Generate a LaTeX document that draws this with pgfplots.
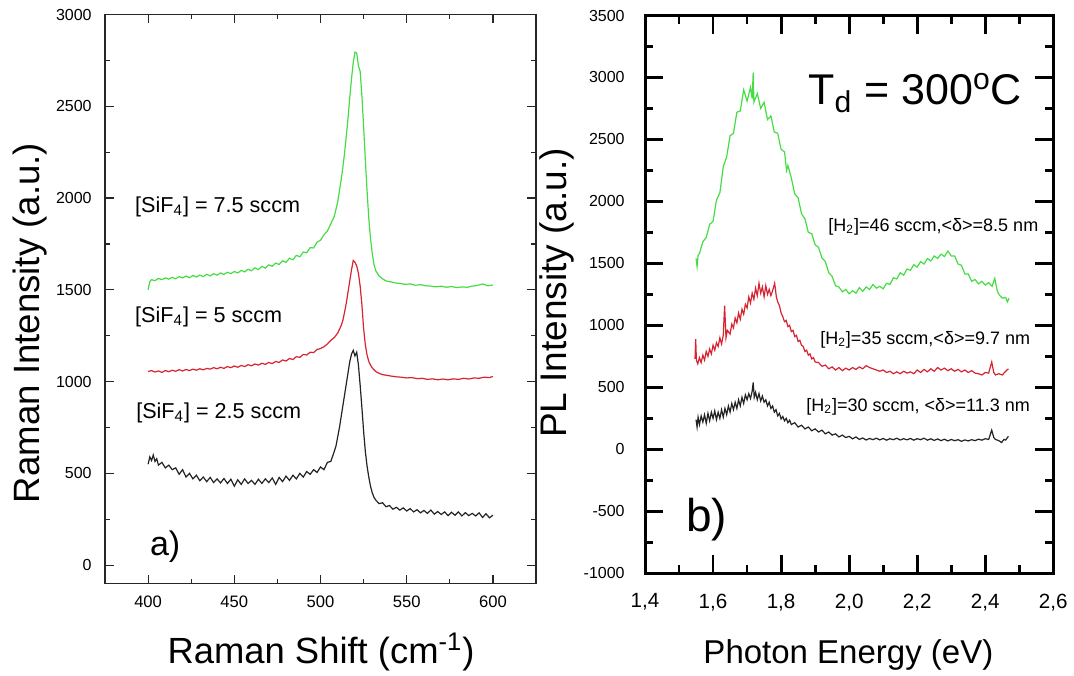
\documentclass[border=0pt]{standalone}
\usepackage{fontspec}
\setmainfont{Liberation Sans}
\usepackage{pgfplots}
\usepackage{pgfplotstable}
\pgfplotsset{compat=1.18}
\definecolor{lgreen}{RGB}{70,220,70}
\definecolor{lred}{RGB}{215,35,50}
\definecolor{dgray}{RGB}{35,35,35}

% ---------- Raman (a) ----------
\pgfplotstableread{
x y
400 1500
401 1545
402 1555
404 1550
406 1562
408 1555
410 1565
412 1558
414 1568
416 1560
418 1572
420 1565
422 1575
424 1566
426 1578
428 1570
430 1580
432 1572
434 1585
436 1576
438 1588
440 1580
442 1592
444 1584
446 1596
448 1588
450 1600
452 1592
454 1606
456 1598
458 1612
460 1604
462 1620
464 1610
466 1628
468 1618
470 1636
472 1628
474 1646
476 1638
478 1658
480 1650
482 1672
484 1664
486 1688
488 1680
490 1706
492 1702
494 1730
496 1728
498 1760
500 1770
502 1800
504 1820
506 1860
508 1900
509 1940
510 1980
511 2040
512 2100
513 2170
514 2250
515 2340
516 2440
517 2550
518 2650
519 2740
520 2795
521 2790
522 2720
523 2690
524 2560
525 2390
526 2210
527 2040
528 1890
529 1780
530 1700
531 1640
532 1605
534 1575
536 1560
538 1548
540 1545
543 1538
546 1535
549 1530
552 1532
555 1525
558 1528
561 1522
564 1520
567 1516
570 1520
573 1514
576 1518
579 1512
582 1516
585 1514
588 1520
591 1524
594 1532
597 1522
600 1526
}\ramanA

\pgfplotstableread{
x y
400 1055
402 1060
404 1052
406 1058
408 1050
410 1060
412 1054
414 1062
416 1056
418 1065
420 1058
422 1066
424 1060
426 1068
428 1062
430 1070
432 1064
434 1072
436 1068
438 1076
440 1070
442 1078
444 1072
446 1082
448 1076
450 1085
452 1078
454 1088
456 1082
458 1092
460 1086
462 1096
464 1090
466 1100
468 1094
470 1104
472 1098
474 1110
476 1104
478 1118
480 1112
482 1126
484 1120
486 1136
488 1132
490 1148
492 1145
494 1160
496 1158
498 1175
500 1180
502 1190
504 1205
506 1225
508 1240
510 1265
511 1285
512 1305
513 1335
514 1380
515 1430
516 1490
517 1550
518 1610
519 1660
520 1650
521 1630
522 1590
523 1520
524 1420
525 1290
526 1200
527 1145
528 1110
529 1090
530 1075
532 1055
534 1045
536 1038
538 1035
541 1030
544 1026
547 1024
550 1020
553 1022
556 1016
559 1018
562 1012
565 1015
568 1010
571 1014
574 1010
577 1015
580 1012
583 1018
586 1014
589 1020
592 1018
595 1024
598 1022
600 1028
}\ramanB

\pgfplotstableread{
x y
400 550
401 590
402 570
403 600
404 565
405 580
406 545
408 560
410 530
412 545
414 520
416 530
418 495
420 520
422 480
424 500
426 470
428 490
430 460
432 480
434 455
436 478
438 450
440 470
442 448
444 472
446 445
448 468
450 430
452 465
454 440
456 470
458 445
460 462
462 440
464 468
466 445
468 470
470 450
472 475
474 440
476 478
478 455
480 485
482 462
484 490
486 470
488 500
490 480
492 510
494 495
496 520
498 505
500 535
502 520
504 560
506 565
508 620
509 650
510 700
511 750
512 810
513 870
514 930
515 990
516 1050
517 1110
518 1150
519 1170
520 1140
521 1160
522 1090
523 980
524 860
525 730
526 620
527 540
528 480
529 430
530 395
531 370
532 355
534 335
536 340
538 318
540 325
542 305
544 315
546 300
548 312
550 295
552 308
554 290
556 302
558 285
560 298
562 282
564 300
566 278
568 292
570 276
572 290
574 270
576 288
578 272
580 290
582 268
584 286
586 270
588 282
590 268
592 285
594 260
596 280
598 258
600 272
}\ramanC

% ---------- PL (b) ----------
\pgfplotstableread{
x y
1.550 1540
1.553 1475
1.556 1565
1.560 1580
1.570 1675
1.580 1710
1.590 1815
1.600 1840
1.610 2010
1.620 2070
1.630 2280
1.640 2360
1.650 2530
1.660 2550
1.670 2720
1.680 2730
1.690 2900
1.700 2810
1.710 2920
1.715 2830
1.718 3040
1.720 2800
1.730 2870
1.740 2750
1.750 2800
1.760 2660
1.770 2690
1.780 2560
1.790 2550
1.800 2420
1.810 2400
1.816 2250
1.820 2290
1.830 2190
1.840 2060
1.850 2030
1.860 1900
1.870 1860
1.880 1750
1.890 1740
1.900 1650
1.910 1630
1.920 1545
1.930 1515
1.940 1425
1.950 1395
1.960 1320
1.970 1310
1.980 1270
1.990 1290
2.000 1255
2.010 1280
2.020 1260
2.030 1305
2.040 1275
2.050 1310
2.060 1290
2.070 1330
2.080 1300
2.090 1315
2.100 1295
2.110 1340
2.120 1330
2.130 1385
2.140 1375
2.150 1425
2.160 1405
2.170 1455
2.180 1445
2.190 1490
2.200 1470
2.210 1515
2.220 1495
2.230 1540
2.240 1520
2.250 1560
2.260 1540
2.270 1575
2.280 1555
2.290 1600
2.300 1560
2.310 1560
2.320 1495
2.330 1485
2.340 1415
2.350 1415
2.360 1355
2.370 1370
2.380 1335
2.390 1355
2.400 1325
2.410 1345
2.420 1315
2.428 1380
2.435 1280
2.440 1250
2.450 1220
2.460 1225
2.465 1190
2.470 1220
}\plA

\pgfplotstableread{
x y
1.547 730
1.549 890
1.551 720
1.555 690
1.560 740
1.565 700
1.570 760
1.575 720
1.580 790
1.585 750
1.590 810
1.595 770
1.600 840
1.605 800
1.610 860
1.615 830
1.620 900
1.625 850
1.630 920
1.634 1160
1.638 900
1.642 960
1.650 930
1.655 1010
1.660 980
1.665 1060
1.670 1020
1.675 1100
1.680 1050
1.685 1130
1.690 1090
1.695 1170
1.700 1140
1.705 1230
1.710 1180
1.715 1260
1.720 1210
1.725 1300
1.730 1240
1.735 1340
1.740 1260
1.745 1310
1.750 1230
1.755 1320
1.760 1250
1.765 1290
1.770 1240
1.775 1280
1.781 1340
1.786 1230
1.790 1190
1.795 1160
1.800 1100
1.805 1070
1.810 1030
1.815 1040
1.820 990
1.825 1000
1.830 950
1.835 960
1.840 910
1.845 920
1.850 870
1.855 880
1.860 840
1.865 830
1.870 790
1.875 800
1.880 760
1.885 770
1.890 730
1.895 740
1.900 705
1.910 700
1.920 670
1.930 680
1.940 650
1.950 665
1.960 640
1.970 660
1.980 635
1.990 655
2.000 640
2.010 660
2.020 645
2.030 665
2.040 650
2.050 675
2.060 660
2.070 650
2.080 640
2.090 630
2.100 640
2.110 620
2.120 630
2.130 610
2.140 625
2.150 610
2.160 630
2.170 615
2.180 625
2.190 610
2.200 640
2.210 620
2.220 645
2.230 625
2.240 650
2.250 630
2.260 660
2.270 640
2.280 655
2.290 635
2.300 650
2.310 630
2.320 645
2.330 625
2.340 640
2.350 620
2.360 635
2.370 615
2.380 610
2.390 600
2.400 620
2.410 615
2.419 705
2.425 620
2.430 600
2.440 610
2.450 600
2.460 630
2.468 650
}\plB

\pgfplotstableread{
x y
1.550 240
1.553 180
1.556 260
1.560 200
1.565 270
1.570 220
1.575 280
1.580 210
1.585 290
1.590 230
1.595 300
1.600 250
1.605 310
1.610 240
1.615 300
1.620 250
1.625 320
1.630 260
1.635 330
1.640 280
1.645 350
1.650 300
1.655 370
1.660 320
1.665 380
1.670 330
1.675 400
1.680 350
1.685 420
1.690 370
1.695 440
1.700 400
1.705 450
1.710 410
1.715 470
1.718 540
1.721 420
1.725 460
1.730 400
1.735 450
1.740 390
1.745 430
1.750 380
1.755 400
1.760 350
1.765 380
1.770 330
1.775 350
1.780 300
1.785 320
1.790 270
1.795 290
1.800 245
1.805 265
1.810 230
1.815 250
1.820 215
1.825 235
1.830 200
1.840 215
1.850 180
1.860 195
1.870 165
1.880 180
1.890 150
1.900 165
1.910 140
1.920 155
1.930 125
1.940 140
1.950 115
1.960 125
1.970 100
1.980 115
1.990 95
2.000 105
2.010 85
2.020 100
2.030 80
2.040 92
2.050 75
2.060 88
2.070 78
2.080 90
2.090 76
2.100 88
2.110 74
2.120 86
2.130 78
2.140 90
2.150 75
2.160 86
2.170 77
2.180 88
2.190 74
2.200 86
2.210 78
2.220 90
2.230 74
2.240 85
2.250 72
2.260 84
2.270 70
2.280 82
2.290 68
2.300 80
2.310 70
2.320 78
2.330 65
2.340 76
2.350 68
2.360 78
2.370 70
2.380 82
2.390 74
2.400 86
2.410 80
2.419 155
2.425 95
2.430 80
2.440 70
2.448 55
2.455 80
2.460 75
2.468 105
}\plC

\begin{document}
\begin{tikzpicture}
\path (0,0) rectangle (537pt,337.5pt);

% ================= panel a =================
\begin{axis}[
  at={(52.5pt,45.75pt)}, anchor=south west,
  scale only axis, width=215.5pt, height=284.5pt,
  xmin=375, xmax=625, ymin=-100, ymax=3000,
  xtick={400,450,500,550,600}, ytick={0,500,1000,1500,2000,2500,3000},
  minor xtick={425,475,525,575}, minor ytick={250,750,1250,1750,2250,2750},
  tick pos=both, tick align=inside,
  major tick length=4.5pt, minor tick length=2.5pt,
  axis line style={line width=0.7pt, draw=black!85},
  tick style={line width=0.6pt, draw=black!85},
  scaled ticks=false,
  /pgf/number format/assume math mode=true,
  /pgf/number format/1000 sep={},
  yticklabel style={font=\fontsize{8}{9}\selectfont, inner sep=0pt, anchor=east, xshift=-6.5pt},
  xticklabel style={font=\fontsize{8.3}{9}\selectfont, inner sep=0pt, anchor=north, yshift=-6pt},
]
\addplot[lgreen, line width=0.6pt] table[x=x,y=y] {\ramanA};
\addplot[lred, line width=0.6pt] table[x=x,y=y] {\ramanB};
\addplot[dgray, line width=0.6pt] table[x=x,y=y] {\ramanC};
\node[anchor=base west, inner sep=0pt, font=\fontsize{10.8}{12}\selectfont] at (axis cs:392.3,1923) {[SiF\textsubscript{4}] = 7.5 sccm};
\node[anchor=base west, inner sep=0pt, font=\fontsize{10.8}{12}\selectfont] at (axis cs:392.3,1324) {[SiF\textsubscript{4}] = 5 sccm};
\node[anchor=base west, inner sep=0pt, font=\fontsize{10.8}{12}\selectfont] at (axis cs:392.9,799) {[SiF\textsubscript{4}] = 2.5 sccm};
\node[anchor=base west, inner sep=0pt, font=\fontsize{17}{19}\selectfont] at (axis cs:400.9,52) {a)};
\end{axis}

% ================= panel b =================
\begin{axis}[
  at={(322.5pt,50.85pt)}, anchor=south west,
  scale only axis, width=204.15pt, height=278.9pt,
  xmin=1.4, xmax=2.6, ymin=-1000, ymax=3500,
  xtick={1.4,1.6,1.8,2.0,2.2,2.4,2.6},
  ytick={-1000,-500,0,500,1000,1500,2000,2500,3000,3500},
  minor xtick={1.5,1.7,1.9,2.1,2.3,2.5},
  minor ytick={-750,-250,250,750,1250,1750,2250,2750,3250},
  tick pos=both, tick align=inside,
  major tick length=9pt, minor tick length=4pt,
  axis line style={line width=1.5pt, draw=black},
  tick style={line width=1.4pt, draw=black},
  scaled ticks=false,
  /pgf/number format/assume math mode=true,
  /pgf/number format/1000 sep={},
  yticklabel style={font=\fontsize{8}{9}\selectfont, inner sep=0pt, anchor=east, xshift=-10pt},
  xticklabel style={font=\fontsize{10.3}{11}\selectfont, inner sep=0pt, anchor=north, yshift=-10pt,
     /pgf/number format/.cd, fixed, fixed zerofill, precision=1, use comma},
]
\addplot[lgreen, line width=0.6pt] table[x=x,y=y] {\plA};
\addplot[lred, line width=0.6pt] table[x=x,y=y] {\plB};
\addplot[dgray, line width=0.6pt] table[x=x,y=y] {\plC};
\node[anchor=base west, inner sep=0pt, font=\fontsize{21.5}{24}\selectfont] at (axis cs:1.879,2780) {T\textsubscript{d} = 300\textsuperscript{o}C};
\node[anchor=base west, inner sep=0pt, font=\fontsize{9}{10}\selectfont] at (axis cs:1.938,1760) {[H\textsubscript{2}]=46 sccm,<δ>=8.5 nm};
\node[anchor=base west, inner sep=0pt, font=\fontsize{9}{10}\selectfont] at (axis cs:1.914,847) {[H\textsubscript{2}]=35 sccm,<δ>=9.7 nm};
\node[anchor=base west, inner sep=0pt, font=\fontsize{9}{10}\selectfont] at (axis cs:1.873,309) {[H\textsubscript{2}]=30 sccm, <δ>=11.3 nm};
\node[anchor=base west, inner sep=0pt, font=\fontsize{23}{26}\selectfont] at (axis cs:1.52,-660) {b)};
\end{axis}

% axis labels
\node[rotate=90, anchor=base, inner sep=0pt, font=\fontsize{18.3}{20}\selectfont] at (20pt,176pt) {Raman Intensity (a.u.)};
\node[anchor=base, inner sep=0pt, font=\fontsize{18.2}{20}\selectfont] at (160.5pt,5.85pt) {Raman Shift (cm\textsuperscript{-1})};
\node[rotate=90, anchor=base, inner sep=0pt, font=\fontsize{18.5}{20}\selectfont] at (283.3pt,191pt) {PL Intensity (a.u.)};
\node[anchor=base, inner sep=0pt, font=\fontsize{16.5}{18}\selectfont] at (424.2pt,5.85pt) {Photon Energy (eV)};
\end{tikzpicture}
\end{document}
